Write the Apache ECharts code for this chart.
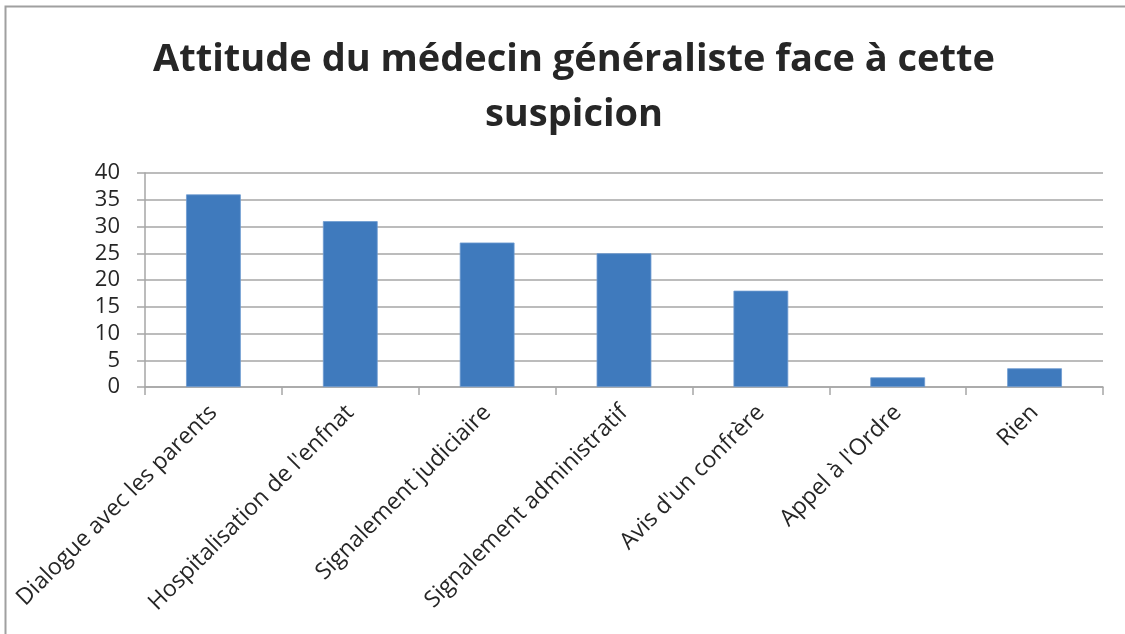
<!DOCTYPE html>
<html>
<head>
<meta charset="utf-8">
<script src="https://cdn.jsdelivr.net/npm/echarts@6/dist/echarts.min.js"></script>
<style>
  html, body { margin: 0; padding: 0; background: #ffffff; }
  #chart { width: 1125px; height: 634px; }
</style>
</head>
<body>
<div id="chart"></div>
<script>
// Réponses des médecins généralistes
const categories = [
  "Dialogue avec les parents",
  "Hospitalisation de l'enfnat",
  "Signalement judiciaire",
  "Signalement administratif",
  "Avis d'un confrère",
  "Appel à l'Ordre",
  "Rien"
];
const values = [36, 31, 27, 25, 18, 1.8, 3.5];
const titleText = "Attitude du médecin généraliste face à cette\nsuspicion";

const textColor = "#262626";
const gridColor = "#a6a6a6";
const barColor = "#3f7abd";
const fontFamily = "'Open Sans', 'DejaVu Sans', sans-serif";

const chart = echarts.init(document.getElementById("chart"), null, { renderer: "canvas" });
chart.setOption({
  backgroundColor: "#ffffff",
  animation: false,
  graphic: [{
    type: "polyline",
    shape: { points: [[5.5, 640], [5.5, 6.5], [1130, 6.5]] },
    style: { stroke: "#a0a0a0", lineWidth: 2, fill: null },
    silent: true
  }],
  title: {
    text: titleText,
    left: 569,
    top: 28,
    textAlign: "center",
    textStyle: {
      fontFamily: fontFamily,
      fontWeight: "bold",
      fontSize: 38,
      lineHeight: 55,
      color: textColor
    }
  },
  grid: { left: 145, right: 22, top: 173, bottom: 247, containLabel: false },
  xAxis: {
    type: "category",
    data: categories,
    axisLine: { lineStyle: { color: gridColor, width: 1.5 } },
    axisTick: { show: true, length: 8, lineStyle: { color: gridColor, width: 1.5 } },
    axisLabel: {
      rotate: 45,
      interval: 0,
      margin: 22,
      fontFamily: fontFamily,
      fontSize: 23,
      color: textColor
    }
  },
  yAxis: {
    type: "value",
    min: 0,
    max: 40,
    interval: 5,
    axisLine: { show: true, lineStyle: { color: gridColor, width: 1.5 } },
    axisTick: { show: true, length: 8, lineStyle: { color: gridColor, width: 1.5 } },
    splitLine: { show: true, lineStyle: { color: gridColor, width: 1.5 } },
    axisLabel: {
      margin: 25,
      fontFamily: fontFamily,
      fontSize: 22,
      color: textColor
    }
  },
  series: [{
    type: "bar",
    data: values,
    barCategoryGap: "60%",
    itemStyle: { color: barColor, borderColor: "#6d9bd1", borderWidth: 0.8 }
  }]
});
</script>
</body>
</html>
